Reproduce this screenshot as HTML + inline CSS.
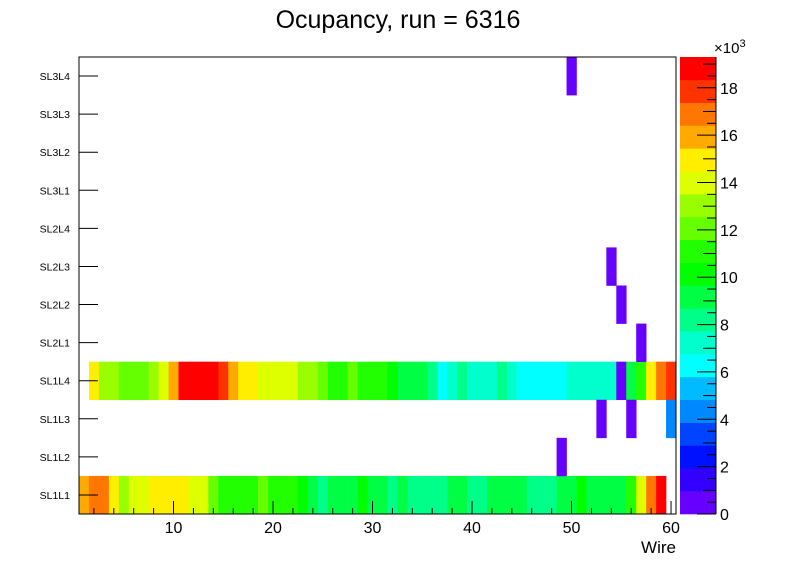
<!DOCTYPE html>
<html><head><meta charset="utf-8"><style>
body{margin:0;background:#fff}
svg{display:block;font-family:"Liberation Sans",sans-serif}
</style></head><body>
<svg id="c" width="796" height="572" xmlns="http://www.w3.org/2000/svg">
<text x="398" y="28" font-size="25" text-anchor="middle">Ocupancy, run = 6316</text>
<text x="676" y="553" font-size="17" text-anchor="end">Wire</text>
<text x="714" y="53" font-size="15">×10<tspan font-size="11" dy="-6">3</tspan></text>
<g id="cells"></g><g id="pal"></g><g id="axes"></g>
</svg>
<script>
const layers=["SL1L1","SL1L2","SL1L3","SL1L4","SL2L1","SL2L2","SL2L3","SL2L4","SL3L1","SL3L2","SL3L3","SL3L4"];
// values in thousands per wire (index 0 = wire 1); null = empty
const rowSL1L1=[16.0,16.9,16.9,15.0,13.0,14.0,14.0,15.0,15.0,15.0,15.0,14.0,14.0,12.1,11.1,11.1,11.1,11.1,12.1,11.1,11.1,11.1,10.1,9.2,8.2,9.2,9.2,9.2,10.1,9.2,9.2,8.2,9.2,8.2,8.2,8.2,8.2,9.2,9.2,8.2,8.2,9.2,9.2,9.2,9.2,8.2,8.2,8.2,9.2,9.2,10.1,9.2,9.2,9.2,9.2,11.1,14.0,16.9,18.8,null];
const rowSL1L4=[null,15.0,13.0,13.0,12.1,12.1,12.1,13.0,14.0,16.0,18.8,18.8,18.8,18.8,17.9,16.0,15.0,15.0,14.0,14.0,14.0,14.0,13.0,13.0,12.1,11.1,11.1,12.1,11.1,11.1,11.1,10.1,9.2,9.2,9.2,8.2,6.3,7.2,8.2,7.2,7.2,7.2,8.2,7.2,6.3,6.3,6.3,6.3,6.3,7.2,7.2,7.2,7.2,7.2,0.5,9.2,11.1,15.0,16.9,17.9];
const sparseLayer=["SL1L3","SL1L3","SL1L3","SL1L2","SL2L1","SL2L2","SL2L3","SL3L4"];
const sparseWire=[53,56,60,49,57,55,54,50];
const sparseVal=[0.5,0.5,4.3,0.5,0.5,0.5,0.5,0.5];
const xTicks=[10,20,30,40,50,60];
const zTicks=[0,2,4,6,8,10,12,14,16,18];
const palette=["#6600ff","#3300ff","#0011ff","#0044ff","#0088ff","#00bbff","#00ffff","#00ffcc","#00ff88","#00ff44","#00ff00","#22ff00","#66ff00","#99ff00","#ddff00","#ffee00","#ffaa00","#ff7700","#ff3300","#ff0000"];
const zMax=19.3;
const X0=79,X1=676,Y0=57,Y1=514;
const xs=w=>X0+(w-0.5)*(X1-X0)/60;
const rowH=(Y1-Y0)/12;
const ys=i=>Y1-(i+1)*rowH;
const colorOf=v=>palette[Math.min(19,Math.max(0,Math.floor(v/zMax*20)))];
const NS="http://www.w3.org/2000/svg";
function mk(t,a,p){const e=document.createElementNS(NS,t);for(const k in a)e.setAttribute(k,a[k]);p.appendChild(e);return e;}
const cells=document.getElementById('cells');
function cell(layer,w,v){
  if(v==null)return;
  const i=layers.indexOf(layer);
  const r=mk('rect',{x:xs(w-0.5),y:ys(i),width:xs(w+0.5)-xs(w-0.5)+0.3,height:rowH+0.3,fill:colorOf(v)},cells);
  
  
}
rowSL1L1.forEach((v,k)=>cell("SL1L1",k+1,v));
rowSL1L4.forEach((v,k)=>cell("SL1L4",k+1,v));
sparseLayer.forEach((l,k)=>cell(l,sparseWire[k],sparseVal[k]));
const pal=document.getElementById('pal');
const PX0=680,PX1=716,pz=v=>Y1-v/zMax*(Y1-Y0);
palette.forEach((c,k)=>{
  const r=mk('rect',{x:PX0,y:pz((k+1)*zMax/20),width:PX1-PX0,height:pz(k*zMax/20)-pz((k+1)*zMax/20)+0.3,fill:c},pal);
  
  
});
const ax=document.getElementById('axes');
const fr=mk('rect',{x:X0,y:Y0,width:X1-X0,height:Y1-Y0,fill:'none',stroke:'#000','stroke-width':1},ax);


mk('line',{x1:PX1,y1:Y0,x2:PX1,y2:Y1,stroke:'#000'},ax);
layers.forEach((l,i)=>{
  const y=ys(i)+rowH/2;
  mk('line',{x1:X0,y1:y,x2:X0+19,y2:y,stroke:'#000'},ax);
  const t=mk('text',{x:70,y:y+4,'font-size':10.5,'text-anchor':'end'},ax);
  t.textContent=l;
  
  
});
for(let w=2;w<=60;w+=2){
  const x=xs(w),L=(w%10==0)?13:6;
  mk('line',{x1:x,y1:Y1,x2:x,y2:Y1-L,stroke:'#000'},ax);
}
xTicks.forEach(w=>{
  const t=mk('text',{x:xs(w),y:533,'font-size':16,'text-anchor':'middle'},ax);
  t.textContent=w;
  
  
});
zTicks.forEach(v=>{
  const y=pz(v);
  mk('line',{x1:PX1-19,y1:y,x2:PX1,y2:y,stroke:'#000'},ax);
  for(let m=1;m<4&&v+m*0.5<=zMax;m++){const ym=pz(v+m*0.5);mk('line',{x1:PX1-(m==2?13:9),y1:ym,x2:PX1,y2:ym,stroke:'#000'},ax);}
  const t=mk('text',{x:720,y:y+6,'font-size':16},ax);
  t.textContent=v;
  
  
});
</script>
</body></html>
